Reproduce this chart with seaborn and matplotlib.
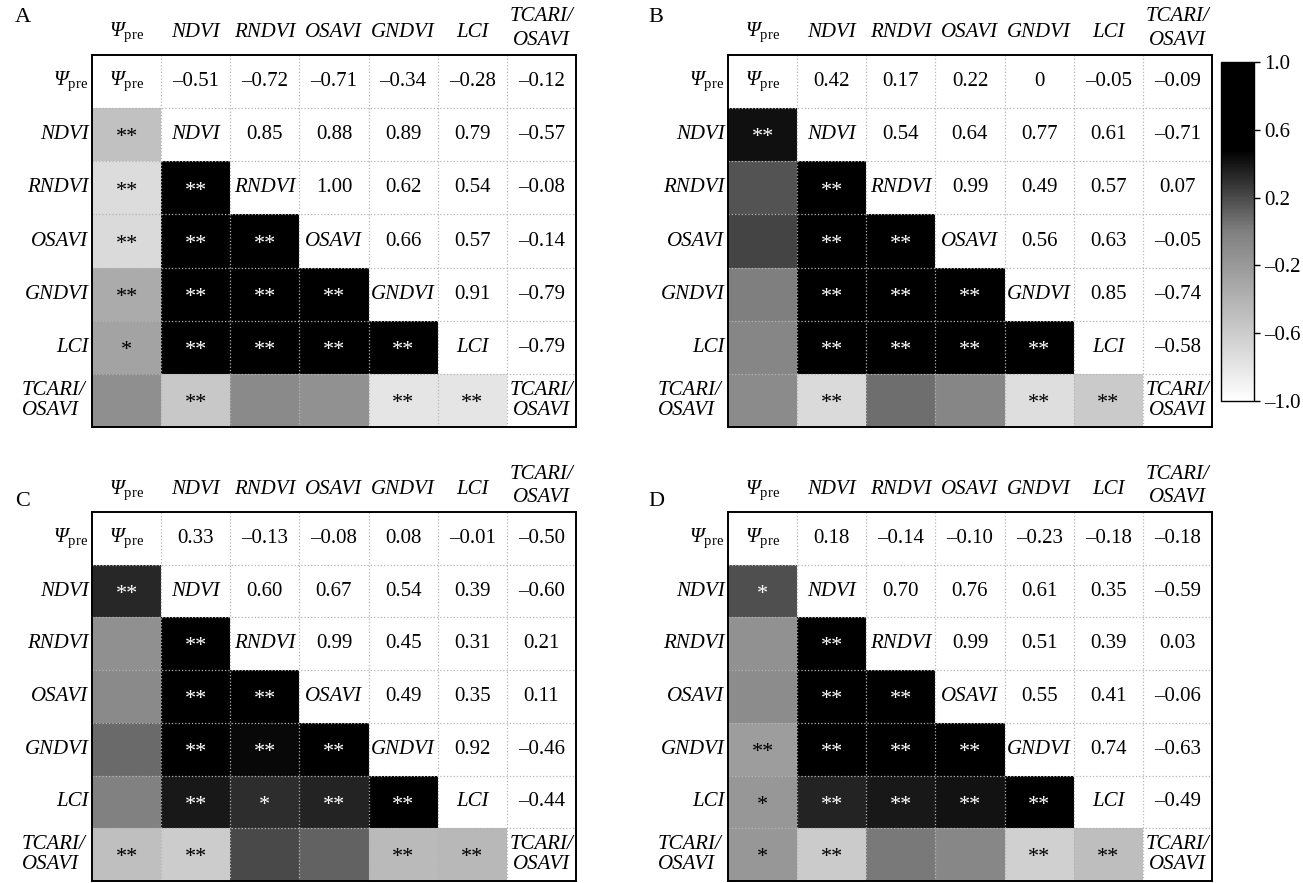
import numpy as np
import pandas as pd
import matplotlib
matplotlib.use('Agg')
import matplotlib.pyplot as plt
from matplotlib.colors import LinearSegmentedColormap
import seaborn as sns

# variables (mismo orden en filas y columnas)
variables = ['Psi_pre', 'NDVI', 'RNDVI', 'OSAVI', 'GNDVI', 'LCI', 'TCARI/OSAVI']
etiquetas = [r'$\Psi_{\mathsf{pre}}$', 'NDVI', 'RNDVI', 'OSAVI',
             'GNDVI', 'LCI', 'TCARI/\nOSAVI']

# triangulo superior, fila por fila
sup_A = [[-0.51, -0.72, -0.71, -0.34, -0.28, -0.12],
         [0.85, 0.88, 0.89, 0.79, -0.57],
         [1.00, 0.62, 0.54, -0.08],
         [0.66, 0.57, -0.14],
         [0.91, -0.79],
         [-0.79]]
sup_B = [[0.42, 0.17, 0.22, 0.0, -0.05, -0.09],
         [0.54, 0.64, 0.77, 0.61, -0.71],
         [0.99, 0.49, 0.57, 0.07],
         [0.56, 0.63, -0.05],
         [0.85, -0.74],
         [-0.58]]
sup_C = [[0.33, -0.13, -0.08, 0.08, -0.01, -0.50],
         [0.60, 0.67, 0.54, 0.39, -0.60],
         [0.99, 0.45, 0.31, 0.21],
         [0.49, 0.35, 0.11],
         [0.92, -0.46],
         [-0.44]]
sup_D = [[0.18, -0.14, -0.10, -0.23, -0.18, -0.18],
         [0.70, 0.76, 0.61, 0.35, -0.59],
         [0.99, 0.51, 0.39, 0.03],
         [0.55, 0.41, -0.06],
         [0.74, -0.63],
         [-0.49]]

# significancia, triangulo inferior fila por fila (desde NDVI)
sig_A = [['**'],
         ['**', '**'],
         ['**', '**', '**'],
         ['**', '**', '**', '**'],
         ['*', '**', '**', '**', '**'],
         ['', '**', '', '', '**', '**']]
sig_B = [['**'],
         ['', '**'],
         ['', '**', '**'],
         ['', '**', '**', '**'],
         ['', '**', '**', '**', '**'],
         ['', '**', '', '', '**', '**']]
sig_C = [['**'],
         ['', '**'],
         ['', '**', '**'],
         ['', '**', '**', '**'],
         ['', '**', '*', '**', '**'],
         ['**', '**', '', '', '**', '**']]
sig_D = [['*'],
         ['', '**'],
         ['', '**', '**'],
         ['**', '**', '**', '**'],
         ['*', '**', '**', '**', '**'],
         ['*', '**', '', '', '**', '**']]

plt.rcParams['font.family'] = 'Liberation Serif'
# Psi en cursiva, subindice recto
plt.rcParams['mathtext.fontset'] = 'custom'
plt.rcParams['mathtext.rm'] = 'Liberation Serif:italic'
plt.rcParams['mathtext.it'] = 'Liberation Serif:italic'
plt.rcParams['mathtext.sf'] = 'Liberation Serif'

# gris: blanco en -1, gris medio en 0, negro desde ~0.48
cmap = LinearSegmentedColormap.from_list(
    'gris', [(0.0, 'white'), (0.5, '#808080'), (0.74, 'black'), (1.0, 'black')])


def matriz(sup):
    n = len(variables)
    m = np.eye(n)
    for i, fila in enumerate(sup):
        for k, v in enumerate(fila):
            j = i + 1 + k
            m[i, j] = v
            m[j, i] = v
    return pd.DataFrame(m, index=variables, columns=variables)


def fmt(v):
    if v == 0:
        return '0'
    return '{:.2f}'.format(v).replace('-', '\u2013')


def panel(ax, sup, sig, cax=None):
    df = matriz(sup)
    n = len(variables)
    mask = np.triu(np.ones((n, n), dtype=bool))
    sns.heatmap(df, mask=mask, cmap=cmap, vmin=-1, vmax=1, ax=ax,
                cbar=cax is not None, cbar_ax=cax,
                xticklabels=False, yticklabels=False)
    for k in range(1, n):
        ax.axhline(k, color='#b5b5b5', ls=':', lw=0.9)
        ax.axvline(k, color='#b5b5b5', ls=':', lw=0.9)
    for s in ax.spines.values():
        s.set_visible(True)
        s.set_color('black')
        s.set_linewidth(1.4)
    ax.tick_params(length=0)
    for i in range(n):
        for j in range(n):
            if j > i:
                ax.text(j + 0.5, i + 0.5, fmt(df.iloc[i, j]), ha='center',
                        va='center', fontsize=15)
            elif j == i:
                ax.text(j + 0.5, i + 0.5, etiquetas[i], ha='center', va='center',
                        fontsize=15, style='italic', linespacing=1.1)
            else:
                estrella = sig[i - 1][j]
                color = 'white' if df.iloc[i, j] > 0 else 'black'
                ax.text(j + 0.5, i + 0.56, estrella, ha='center', va='center',
                        fontsize=16, color=color)
    # encabezados
    for j in range(n):
        y = -0.5 if j == n - 1 else -0.42
        ax.text(j + 0.5, y, etiquetas[j], ha='center', va='center',
                fontsize=15, style='italic', linespacing=1.3, clip_on=False)
    for i in range(n):
        x = -0.09 if i == n - 1 else -0.05
        ax.text(x, i + 0.5, etiquetas[i], ha='right', va='center',
                fontsize=15, style='italic', linespacing=1.1,
                multialignment='left', clip_on=False)


fig = plt.figure(figsize=(13.03, 8.83), dpi=100)
W, H = 1303.0, 883.0
ax_A = fig.add_axes([92 / W, 1 - 427 / H, 484 / W, 372 / H])
ax_B = fig.add_axes([728 / W, 1 - 427 / H, 484 / W, 372 / H])
ax_C = fig.add_axes([92 / W, 1 - 881 / H, 484 / W, 369 / H])
ax_D = fig.add_axes([728 / W, 1 - 881 / H, 484 / W, 369 / H])
cax = fig.add_axes([1221 / W, 1 - 401 / H, 33 / W, 339 / H])

panel(ax_A, sup_A, sig_A)
panel(ax_B, sup_B, sig_B, cax=cax)
panel(ax_C, sup_C, sig_C)
panel(ax_D, sup_D, sig_D)

ticks = [1.0, 0.6, 0.2, -0.2, -0.6, -1.0]
cbar = ax_B.collections[0].colorbar
cbar.set_ticks(ticks)
cbar.set_ticklabels(['{:.1f}'.format(t).replace('-', '\u2013') for t in ticks])
cbar.ax.tick_params(labelsize=15, length=4, width=1, direction='out')
cbar.outline.set_linewidth(1.0)
cbar.outline.set_edgecolor('black')

for letra, x, y in [('A', 15, 18), ('B', 648, 18), ('C', 15, 502), ('D', 648, 502)]:
    fig.text(x / W, 1 - y / H, letra, fontsize=16, va='center', ha='left')

plt.savefig('out.png', dpi=100)
plt.close()
